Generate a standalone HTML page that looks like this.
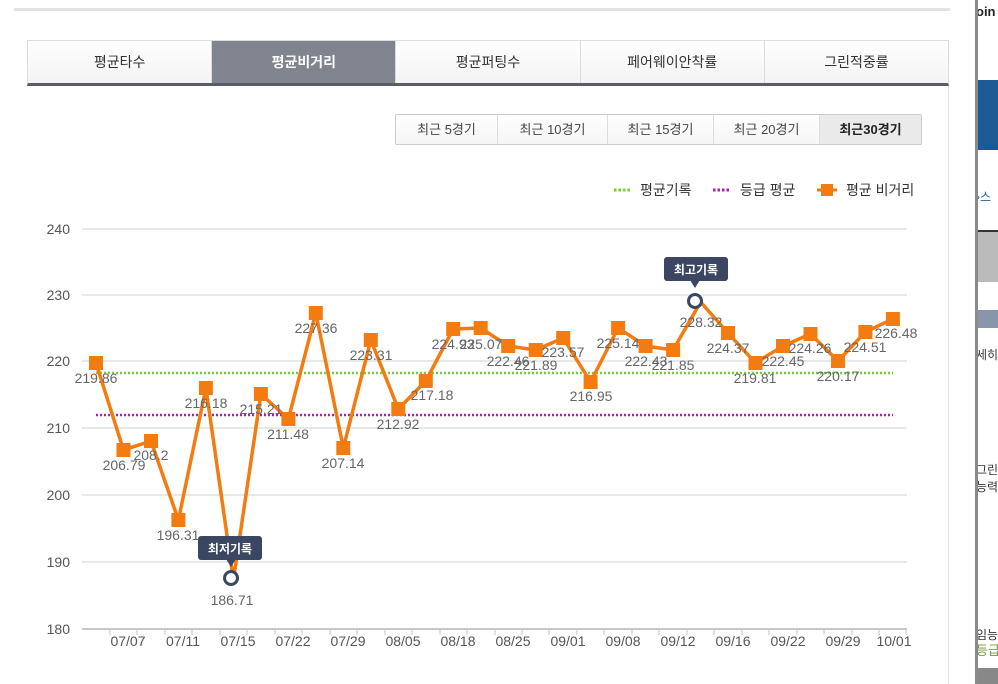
<!DOCTYPE html>
<html><head><meta charset="utf-8"><style>
*{margin:0;padding:0;box-sizing:border-box}
body{width:998px;height:684px;background:#fff;position:relative;overflow:hidden;font-family:"Liberation Sans","Noto Sans CJK KR",sans-serif}
.tabs{position:absolute;left:27px;top:40px;width:922px;height:46px;border:1px solid #ddd;border-bottom:3px solid #5a5d66;display:flex;background:linear-gradient(#fff,#f3f3f3)}
.tabs div{flex:1;text-align:center;line-height:42px;font-size:14px;color:#333;border-right:1px solid #ddd}
.tabs div.on{background:#80848f;color:#fff;font-weight:bold}
.per{position:absolute;left:395px;top:114px;height:31px;display:flex;border:1px solid #ccc;border-radius:2px}
.per div{font-size:13px;color:#444;line-height:29px;text-align:center;border-right:1px solid #ddd;background:linear-gradient(#fff,#f5f5f5)}
.per div.on{background:#eaeaea;font-weight:bold;color:#222}
.side{position:absolute;left:978px;top:0;width:20px;height:684px;background:#fff;overflow:hidden}
.side div{position:absolute;left:-2px;white-space:nowrap;font-size:12px;color:#333}
</style></head><body>
<div style="position:absolute;left:14px;top:8px;width:936px;height:3px;background:#e2e2e2"></div>
<div style="position:absolute;left:948px;top:86px;width:1px;height:598px;background:#e3e3e3"></div>
<div style="position:absolute;left:975px;top:0;width:3px;height:684px;background:#8a8a8a"></div>
<div class="side">
<div style="left:0;top:0;width:20px;top:80px;height:70px;background:#1d5a94"></div>
<div style="left:0;top:230px;width:20px;height:2px;background:#333"></div>
<div style="left:0;top:232px;width:20px;height:50px;background:#bbb"></div>
<div style="left:0;top:310px;width:20px;height:18px;background:#8796aa"></div>
<div style="left:0;top:668px;width:20px;height:16px;background:#888"></div>
<div style="top:4px;font-size:13px;color:#222;font-weight:bold">oin</div>
<div style="top:188px;color:#2a5fa0">›스</div>
<div style="top:346px">세히</div>
<div style="top:462px;line-height:17px">그린<br>능력</div>
<div style="top:626px">임능</div>
<div style="top:640px;font-size:13px;color:#7a9a3a">등급</div>
</div>

<div class="tabs"><div>평균타수</div><div class="on">평균비거리</div><div>평균퍼팅수</div><div>페어웨이안착률</div><div style="border-right:none">그린적중률</div></div>
<div class="per"><div style="width:102px">최근 5경기</div><div style="width:110px">최근 10경기</div><div style="width:106px">최근 15경기</div><div style="width:106px">최근 20경기</div><div class="on" style="width:101px;border-right:none">최근30경기</div></div>

<svg width="998" height="684" style="position:absolute;left:0;top:0" font-family="Liberation Sans, sans-serif">
<g font-size="14" fill="#333" font-family="Liberation Sans, Noto Sans CJK KR, sans-serif">
<line x1="614" y1="190" x2="632" y2="190" stroke="#77cc33" stroke-width="3" stroke-dasharray="2.5,2"/>
<text x="640" y="195">평균기록</text>
<line x1="713" y1="190" x2="731" y2="190" stroke="#aa22aa" stroke-width="3" stroke-dasharray="2.5,2"/>
<text x="740" y="195">등급 평균</text>
<line x1="817" y1="190" x2="837" y2="190" stroke="#f47b10" stroke-width="3"/>
<rect x="821" y="184" width="12" height="12" fill="#f47b10"/>
<text x="846" y="195">평균 비거리</text>
</g>
<g stroke="#d0d0d0" stroke-width="1">
<line x1="82" y1="229" x2="907" y2="229"/><line x1="82" y1="295" x2="907" y2="295"/><line x1="82" y1="361" x2="907" y2="361"/><line x1="82" y1="428" x2="907" y2="428"/><line x1="82" y1="495" x2="907" y2="495"/><line x1="82" y1="562" x2="907" y2="562"/>
<line x1="82" y1="629" x2="907" y2="629" stroke="#c0c8d0" stroke-width="2"/>
</g>
<g stroke="#c0c8d0" stroke-width="1">
<line x1="110" y1="629" x2="110" y2="635"/><line x1="137" y1="629" x2="137" y2="635"/><line x1="165" y1="629" x2="165" y2="635"/><line x1="192" y1="629" x2="192" y2="635"/><line x1="220" y1="629" x2="220" y2="635"/><line x1="247" y1="629" x2="247" y2="635"/><line x1="275" y1="629" x2="275" y2="635"/><line x1="302" y1="629" x2="302" y2="635"/><line x1="330" y1="629" x2="330" y2="635"/><line x1="357" y1="629" x2="357" y2="635"/><line x1="385" y1="629" x2="385" y2="635"/><line x1="412" y1="629" x2="412" y2="635"/><line x1="440" y1="629" x2="440" y2="635"/><line x1="467" y1="629" x2="467" y2="635"/><line x1="495" y1="629" x2="495" y2="635"/><line x1="522" y1="629" x2="522" y2="635"/><line x1="549" y1="629" x2="549" y2="635"/><line x1="577" y1="629" x2="577" y2="635"/><line x1="604" y1="629" x2="604" y2="635"/><line x1="632" y1="629" x2="632" y2="635"/><line x1="659" y1="629" x2="659" y2="635"/><line x1="687" y1="629" x2="687" y2="635"/><line x1="714" y1="629" x2="714" y2="635"/><line x1="742" y1="629" x2="742" y2="635"/><line x1="769" y1="629" x2="769" y2="635"/><line x1="797" y1="629" x2="797" y2="635"/><line x1="824" y1="629" x2="824" y2="635"/><line x1="852" y1="629" x2="852" y2="635"/><line x1="879" y1="629" x2="879" y2="635"/><line x1="906" y1="629" x2="906" y2="635"/>
</g>
<g font-size="14" fill="#555" text-anchor="end">
<text x="70" y="234">240</text><text x="70" y="300">230</text><text x="70" y="366">220</text><text x="70" y="433">210</text><text x="70" y="500">200</text><text x="70" y="567">190</text><text x="70" y="634">180</text>
</g>
<g font-size="14" fill="#555" text-anchor="middle">
<text x="128" y="646">07/07</text><text x="183" y="646">07/11</text><text x="238" y="646">07/15</text><text x="293" y="646">07/22</text><text x="348" y="646">07/29</text><text x="403" y="646">08/05</text><text x="458" y="646">08/18</text><text x="513" y="646">08/25</text><text x="568" y="646">09/01</text><text x="623" y="646">09/08</text><text x="678" y="646">09/12</text><text x="733" y="646">09/16</text><text x="788" y="646">09/22</text><text x="843" y="646">09/29</text><text x="894" y="646">10/01</text>
</g>
<line x1="96" y1="373" x2="893" y2="373" stroke="#77cc33" stroke-width="2.5" stroke-dasharray="2,2"/>
<line x1="96" y1="415" x2="893" y2="415" stroke="#aa22aa" stroke-width="2.5" stroke-dasharray="2,2"/>
<polyline fill="none" stroke="#f47b10" stroke-width="3.5" stroke-linejoin="round" points="96,363 123.5,450 151,441 178.4,520 205.9,388 233.4,580 260.9,394 288.4,419 315.8,313 343.3,448 370.8,340 398.3,409 425.8,381 453.2,329 480.7,328 508.2,346 535.7,350 563.2,338 590.6,382 618.1,328 645.6,346 673.1,350 700.6,302 728,333 755.5,363 783,346 810.5,334 838,361 865.4,332 892.9,319"/>
<g fill="#f47b10">
<rect x="89" y="356" width="14" height="14"/><rect x="116.5" y="443" width="14" height="14"/><rect x="144" y="434" width="14" height="14"/><rect x="171.4" y="513" width="14" height="14"/><rect x="198.9" y="381" width="14" height="14"/><rect x="253.9" y="387" width="14" height="14"/><rect x="281.4" y="412" width="14" height="14"/><rect x="308.8" y="306" width="14" height="14"/><rect x="336.3" y="441" width="14" height="14"/><rect x="363.8" y="333" width="14" height="14"/><rect x="391.3" y="402" width="14" height="14"/><rect x="418.8" y="374" width="14" height="14"/><rect x="446.2" y="322" width="14" height="14"/><rect x="473.7" y="321" width="14" height="14"/><rect x="501.2" y="339" width="14" height="14"/><rect x="528.7" y="343" width="14" height="14"/><rect x="556.2" y="331" width="14" height="14"/><rect x="583.6" y="375" width="14" height="14"/><rect x="611.1" y="321" width="14" height="14"/><rect x="638.6" y="339" width="14" height="14"/><rect x="666.1" y="343" width="14" height="14"/><rect x="721" y="326" width="14" height="14"/><rect x="748.5" y="356" width="14" height="14"/><rect x="776" y="339" width="14" height="14"/><rect x="803.5" y="327" width="14" height="14"/><rect x="831" y="354" width="14" height="14"/><rect x="858.4" y="325" width="14" height="14"/><rect x="885.9" y="312" width="14" height="14"/>
</g>
<circle cx="231" cy="578" r="6.5" fill="#fff" stroke="#3b4762" stroke-width="3"/>
<circle cx="695" cy="301" r="6.5" fill="#fff" stroke="#3b4762" stroke-width="3"/>
<g font-family="Liberation Sans, Noto Sans CJK KR, sans-serif" font-size="12" font-weight="bold" fill="#fff" text-anchor="middle">
<rect x="198" y="536" width="64" height="24" rx="3" fill="#3b4762"/><polygon points="226,559 236,559 231,567" fill="#3b4762"/><text x="230" y="553">최저기록</text>
<rect x="664" y="257" width="64" height="24" rx="3" fill="#3b4762"/><polygon points="690,280 700,280 695,288" fill="#3b4762"/><text x="696" y="274">최고기록</text>
</g>
<g font-size="14" fill="#666" text-anchor="middle">
<text x="96" y="383">219.86</text><text x="124" y="470">206.79</text><text x="151" y="460">208.2</text><text x="178" y="540">196.31</text><text x="206" y="408">216.18</text><text x="232" y="605">186.71</text><text x="261" y="414">215.21</text><text x="288" y="439">211.48</text><text x="316" y="333">227.36</text><text x="343" y="468">207.14</text><text x="371" y="360">223.31</text><text x="398" y="429">212.92</text><text x="432" y="400">217.18</text><text x="453" y="349">224.93</text><text x="481" y="349">225.07</text><text x="508" y="366">222.46</text><text x="536" y="370">221.89</text><text x="563" y="357">223.57</text><text x="591" y="401">216.95</text><text x="618" y="348">225.14</text><text x="646" y="366">222.43</text><text x="673" y="370">221.85</text><text x="701" y="327">228.32</text><text x="728" y="353">224.37</text><text x="755" y="383">219.81</text><text x="783" y="366">222.45</text><text x="810" y="353">224.26</text><text x="838" y="381">220.17</text><text x="865" y="352">224.51</text><text x="896" y="338">226.48</text>
</g>
</svg>
</body></html>
